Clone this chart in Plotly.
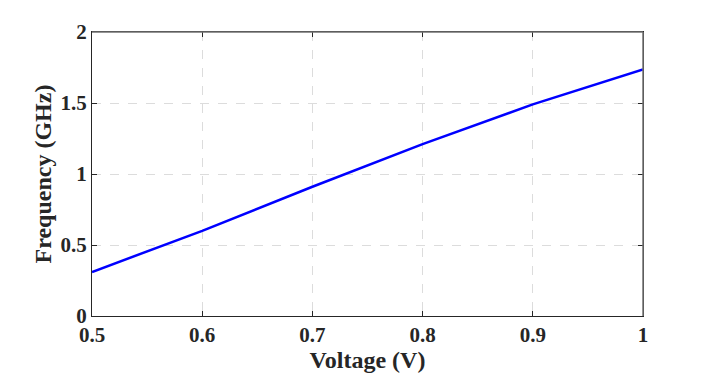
import plotly.graph_objects as go

# data
voltage = [0.5, 0.6, 0.7, 0.8, 0.9, 1.0]
frequency = [0.31, 0.60, 0.91, 1.21, 1.49, 1.737]

x_ticks = [0.5, 0.6, 0.7, 0.8, 0.9, 1]
x_ticklabels = ['0.5', '0.6', '0.7', '0.8', '0.9', '1']
y_ticks = [0, 0.5, 1, 1.5, 2]
y_ticklabels = ['0', '0.5', '1', '1.5', '2']

font_family = 'Liberation Serif'

fig = go.Figure()
fig.add_trace(go.Scatter(
    x=voltage,
    y=frequency,
    mode='lines',
    line=dict(color='#0000ff', width=2.5),
    showlegend=False,
))

axis_common = dict(
    showline=True,
    linecolor='#262626',
    linewidth=1.2,
    mirror='ticks',
    ticks='inside',
    ticklen=5,
    tickcolor='#262626',
    showgrid=True,
    gridcolor='#dcdcdc',
    griddash='dash',
    gridwidth=1,
    zeroline=False,
    tickfont=dict(family=font_family, size=21, color='#262626'),
)

fig.update_xaxes(
    range=[0.5, 1],
    tickvals=x_ticks,
    ticktext=[f'<b>{t}</b>' for t in x_ticklabels],
    title=dict(text='<b>Voltage (V)</b>', font=dict(family=font_family, size=24, color='#262626'), standoff=0),
    **axis_common,
)
fig.update_yaxes(
    range=[0, 2],
    tickvals=y_ticks,
    ticktext=[f'<b>{t}</b>' for t in y_ticklabels],
    title=dict(text='<b>Frequency (GHz)</b>', font=dict(family=font_family, size=24, color='#262626'), standoff=2),
    **axis_common,
)

# lighter top and right box edges, like the MATLAB box
fig.add_shape(type='line', xref='paper', yref='paper', x0=0, x1=1, y0=1, y1=1,
              line=dict(color='#707070', width=1.5))
fig.add_shape(type='line', xref='paper', yref='paper', x0=1, x1=1, y0=0, y1=1,
              line=dict(color='#707070', width=1.5))

fig.update_layout(
    width=703,
    height=368,
    margin=dict(l=84, r=68, t=21, b=59),
    paper_bgcolor='white',
    plot_bgcolor='white',
)

fig.write_html('out.html')
